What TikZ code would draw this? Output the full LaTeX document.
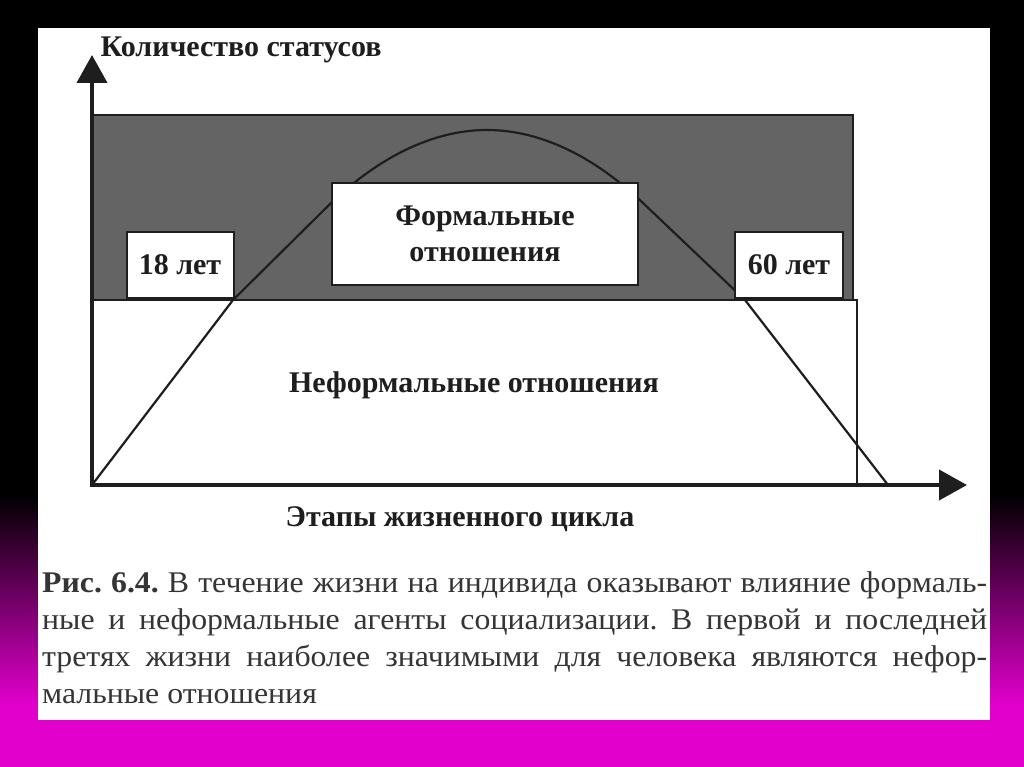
\documentclass[tikz,border=0pt]{standalone}
\usepackage{fontspec}
\setmainfont{Liberation Serif}
\newfontfamily\capfont[FakeStretch=1.06]{Liberation Serif}
\usepackage{tikz}
\usetikzlibrary{arrows.meta}
\definecolor{slidepink}{RGB}{226,0,204}
\definecolor{inkgrey}{RGB}{30,30,30}
\definecolor{printgrey}{RGB}{100,100,100}

\begin{document}
\begin{tikzpicture}[
x=1pt, y=-1pt,
lbl/.style={font=\fontsize{30}{36}\selectfont\bfseries, text=inkgrey, align=center},
agebox/.style={lbl, draw=inkgrey, line width=2pt, fill=white, minimum width=107pt, minimum height=66pt, inner sep=0pt},
frame/.style={draw=inkgrey, line width=2pt},
axis/.style={line width=4pt, inkgrey, line cap=rect, -{Triangle[length=28pt,width=30pt]}}
]
\useasboundingbox (0,0) rectangle (1024,767);
\fill[black] (0,0) rectangle (1024,767);
\shade[top color=black, bottom color=slidepink] (0,495) rectangle (1024,705);
\fill[slidepink] (0,705) rectangle (1024,767);
\fill[white] (38,28) rectangle (990,720);

\filldraw[frame, fill=printgrey] (92,115) rectangle (853,300);
\filldraw[frame, fill=white] (92,300) rectangle (857,485);

\coordinate (origin) at (92,485);
\coordinate (ytip) at (92,55);
\coordinate (xtip) at (967,485);
\coordinate (peak) at (487,130);
\coordinate (cycleend) at (888,485);
\draw[line width=2.2pt, inkgrey, line join=round] (origin) -- (233,300) -- (331,203) parabola bend (peak) (643,203) -- (745,300) -- (cycleend);

\node[agebox] (age18) at (180,265) {18 лет};
\node[agebox, minimum width=108pt] (age60) at (789,265) {60 лет};
\node[agebox, minimum width=306pt, minimum height=102pt] (formal) at (485,234) {Формальные\\отношения};
\node[lbl] (informal) at (474,385) {Неформальные отношения};

\draw[axis] (origin) -- (ytip);
\draw[axis] (origin) -- (xtip);
\node[lbl, anchor=base west] (ylabel) at (97,57) {Количество статусов};
\node[lbl] (xlabel) at (460,519) {Этапы жизненного цикла};

\node[anchor=north west, inner sep=0pt, text width=945pt, align=justify, text=inkgrey!90!white, font=\capfont\fontsize{30}{37}\selectfont] (caption) at (42,571) {\hyphenpenalty=10000 \frenchspacing{\bfseries Рис. 6.4.} В течение жизни на индивида оказывают влияние формаль-\linebreak ные и неформальные агенты социализации. В первой и последней\linebreak третях жизни наиболее значимыми для человека являются нефор-\linebreak мальные отношения};
\end{tikzpicture}
\end{document}
